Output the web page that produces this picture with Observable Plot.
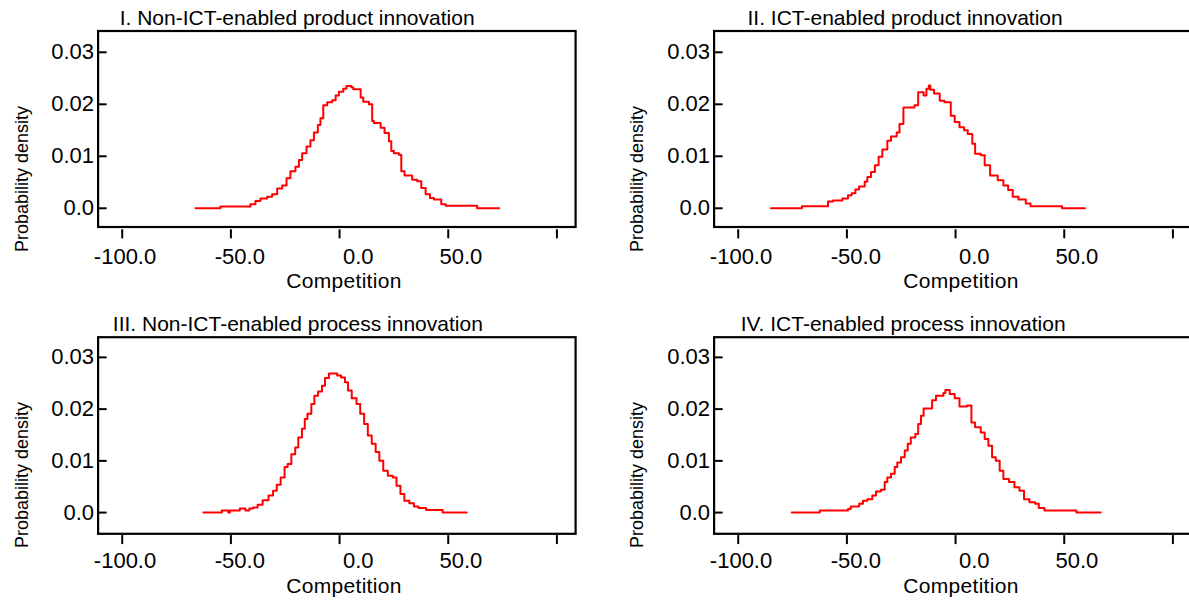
<!DOCTYPE html>
<html><head><meta charset="utf-8">
<script src="https://cdn.jsdelivr.net/npm/d3@7"></script>
<script src="https://cdn.jsdelivr.net/npm/@observablehq/plot@0.6"></script>
<style>
html,body{margin:0;padding:0;background:#fff;overflow:hidden;}
#wrap{position:relative;width:1189px;height:600px;overflow:hidden;font-family:"Liberation Sans",Arial,sans-serif;color:#000;}
.panel{position:absolute;width:600px;}
.panel svg{max-width:none !important;}
.title{position:absolute;font-size:21px;line-height:21px;white-space:nowrap;}
.xlab{position:absolute;font-size:21px;line-height:14px;white-space:nowrap;transform:translateX(-50%);letter-spacing:0.3px;}
.ylab{position:absolute;font-size:18px;line-height:18px;white-space:nowrap;transform:translate(-50%,-50%) rotate(-90deg);}
</style></head><body><div id="wrap"></div>
<script>
const panelTitles = [
  "I. Non-ICT-enabled product innovation",
  "II. ICT-enabled product innovation",
  "III. Non-ICT-enabled process innovation",
  "IV. ICT-enabled process innovation"
];
const xAxisLabel = "Competition";
const yAxisLabel = "Probability density";
const xTicks = [-100, -50, 0, 50, 100];
const xTickLabels = ["-100.0", "-50.0", "0.0", "50.0", ""];
const yTicks = [0, 0.01, 0.02, 0.03];
const yTickLabels = ["0.0", "0.01", "0.02", "0.03"];

// I. Non-ICT-enabled product innovation
const p1X = [-66.3,-54.8,-41.0,-38.7,-36.4,-33.3,-31.0,-28.7,-26.4,-24.4,-22.6,-20.3,-18.7,-17.2,-15.2,-13.4,-11.8,-10.0,-8.8,-7.5,-5.7,-3.4,-1.8,-0.3,1.7,3.2,5.4,6.3,9.7,10.9,13.5,15.0,15.8,18.9,20.7,22.7,23.8,25.0,27.3,28.4,29.9,33.4,35.7,37.6,39.6,41.6,43.4,46.8,48.8,63.3,73.4];
const p1Y = [0,0.00035,0.0008,0.0014,0.0019,0.0022,0.0027,0.0038,0.0044,0.0058,0.0071,0.008,0.0093,0.0106,0.0119,0.0131,0.0146,0.016,0.0173,0.0198,0.0204,0.0208,0.0217,0.0224,0.023,0.0235,0.0233,0.0229,0.0213,0.0205,0.0200,0.0168,0.0164,0.0155,0.0145,0.0129,0.011,0.0106,0.0103,0.0071,0.0063,0.0055,0.0052,0.0039,0.0027,0.002,0.0017,0.0008,0.0005,0,0];

// II. ICT-enabled product innovation
const p2X = [-84.9,-70.7,-58.7,-56.4,-52.1,-49.5,-47.8,-46.1,-44.4,-41.8,-40.6,-38.9,-37.1,-35.4,-33.7,-31.4,-29.7,-27.1,-25.8,-24.0,-18.9,-17.2,-14.7,-13.4,-12.3,-11.6,-9.9,-7.3,-5.1,-2.2,-0.4,1.8,3.9,5.6,7.7,9.0,11.6,13.4,15.9,19.4,22.0,24.2,26.3,28.9,32.3,34.5,49.0,59.5];
const p2Y = [0,0.0004,0.0013,0.0015,0.0019,0.0025,0.0029,0.0036,0.0042,0.0051,0.006,0.007,0.0083,0.0099,0.0113,0.013,0.0138,0.0146,0.0162,0.0194,0.0198,0.0223,0.0217,0.023,0.0236,0.0228,0.0221,0.0207,0.0204,0.0178,0.0166,0.0156,0.015,0.0143,0.0124,0.0105,0.0102,0.0083,0.0063,0.0054,0.0044,0.0035,0.0022,0.0017,0.0009,0.0004,0,0];

// III. Non-ICT-enabled process innovation
const p3X = [-62.7,-54.2,-51.2,-50.4,-45.9,-43.3,-41.5,-39.8,-37.7,-35.4,-32.7,-30.6,-28.9,-27.1,-25.3,-23.9,-22.2,-20.4,-19.0,-17.3,-16.0,-14.8,-13.0,-11.6,-9.9,-8.1,-6.7,-4.9,-1.1,0.7,2.5,3.9,5.6,7.8,9.5,11.3,13.0,14.8,16.6,18.3,20.1,22.2,24.5,26.2,28.0,29.8,32.1,34.2,36.3,39.8,47.4,58.5];
const p3Y = [0,0.0004,0,0.0004,0.0008,0.0004,0.0008,0.001,0.0015,0.0024,0.0033,0.0042,0.0054,0.0068,0.0088,0.0094,0.0113,0.0126,0.0145,0.0162,0.0181,0.0191,0.021,0.0226,0.0234,0.0245,0.026,0.0269,0.0265,0.0261,0.0252,0.0236,0.0221,0.021,0.0191,0.0171,0.0149,0.0133,0.0117,0.01,0.0081,0.0071,0.0068,0.0052,0.0036,0.0023,0.0018,0.0012,0.0009,0.0005,0,0];

// IV. ICT-enabled process innovation
const p4X = [-75.4,-62.5,-49.5,-48.2,-44.4,-42.6,-40.6,-38.3,-36.6,-34.4,-32.6,-31.4,-29.7,-28.0,-26.8,-25.1,-23.4,-22.0,-20.6,-18.5,-17.2,-15.9,-14.7,-10.8,-9.0,-5.6,-4.7,-2.7,-0.4,1.8,5.3,7.3,9.0,11.6,13.4,15.1,16.8,18.5,20.3,22.0,24.6,27.1,29.4,31.5,34.0,36.6,38.3,40.9,55.6,66.8];
const p4Y = [0,0.0004,0.0007,0.0012,0.0017,0.0023,0.0026,0.0033,0.0041,0.0044,0.0059,0.0068,0.0075,0.0088,0.0097,0.0107,0.012,0.0133,0.0145,0.0152,0.0171,0.0187,0.0201,0.0217,0.0226,0.0231,0.0237,0.0229,0.0221,0.0205,0.0207,0.0174,0.0165,0.0155,0.0142,0.0129,0.0107,0.01,0.0081,0.0065,0.0059,0.0049,0.0042,0.0026,0.002,0.0017,0.0009,0.0004,0,0];

const series = [[p1X, p1Y], [p2X, p2Y], [p3X, p3Y], [p4X, p4Y]];

// layout
const rows = [
  {top: 0, height: 300, marginTop: 30.5, marginBottom: 73.5, yDomain: [-0.0036, 0.0341], tickDy: 2.8, labelGap: 10, titleBase: 24.3, xlabBase: 288.5, ylabY: 179},
  {top: 306, height: 294, marginTop: 30.7, marginBottom: 66.7, yDomain: [-0.0041, 0.0339], tickDy: 1.8, labelGap: 7.5, titleBase: 330.8, xlabBase: 593, ylabY: 475}
];
const cols = [
  {left: 0, xlabX: 344, ylabX: 21.7},
  {left: 615.8, xlabX: 961, ylabX: 637}
];
const titleLefts = [119.7, 747.5, 112.8, 740.7];
const mL = 97.6, mR = 24.9, W = 600;
const innerW = W - mL - mR;
const font = '"Liberation Sans", Arial, sans-serif';
const wrap = document.getElementById("wrap");

series.forEach(([xs, ys], i) => {
  const row = rows[i < 2 ? 0 : 1];
  const col = cols[i % 2];
  const svg = Plot.plot({
    width: W, height: row.height,
    marginLeft: mL, marginRight: mR, marginTop: row.marginTop, marginBottom: row.marginBottom,
    style: {fontFamily: font, fontSize: "22px", color: "#000", background: "transparent", overflow: "visible"},
    x: {domain: [-111.1, 108.6]},
    y: {domain: row.yDomain},
    marks: [
      Plot.tickY(yTicks, {y: d => d, stroke: "#000", strokeWidth: 2, insetRight: innerW - 9}),
      Plot.axisY(yTicks, {tickSize: 0, tickPadding: 4, tickFormat: d => yTickLabels[yTicks.indexOf(d)], fontSize: 22, fill: "#000", label: null}),
      Plot.axisX(xTicks, {tickSize: 9, dy: row.tickDy, fill: "none", stroke: "#000", strokeWidth: 2, label: null}),
      Plot.axisX(xTicks, {tickSize: 0, stroke: "none", tickPadding: row.tickDy + 9 + row.labelGap, dx: 34, textAnchor: "end",
        tickFormat: d => xTickLabels[xTicks.indexOf(d)], fontSize: 22, fill: "#000", label: null}),
      Plot.line({length: xs.length}, {x: xs, y: ys, curve: "step-after", stroke: "#ff0000", strokeWidth: 2}),
      Plot.frame({stroke: "#000", strokeWidth: 2.2})
    ]
  });
  const div = document.createElement("div");
  div.className = "panel";
  div.style.left = col.left + "px";
  div.style.top = row.top + "px";
  div.appendChild(svg);
  wrap.appendChild(div);

  const t = document.createElement("div");
  t.className = "title";
  t.textContent = panelTitles[i];
  t.style.left = titleLefts[i] + "px";
  t.style.top = (row.titleBase - 0.8465 * 21) + "px";
  wrap.appendChild(t);

  // line-height 14px, font 21px: baseline sits (14 - 1.117*21)/2 + 0.905*21 below the top
  const xl = document.createElement("div");
  xl.className = "xlab";
  xl.textContent = xAxisLabel;
  xl.style.left = col.xlabX + "px";
  xl.style.top = (row.xlabBase - ((14 - 1.117 * 21) / 2 + 0.905 * 21)) + "px";
  wrap.appendChild(xl);

  const yl = document.createElement("div");
  yl.className = "ylab";
  yl.textContent = yAxisLabel;
  yl.style.left = col.ylabX + "px";
  yl.style.top = row.ylabY + "px";
  wrap.appendChild(yl);
});
</script>
</body></html>
